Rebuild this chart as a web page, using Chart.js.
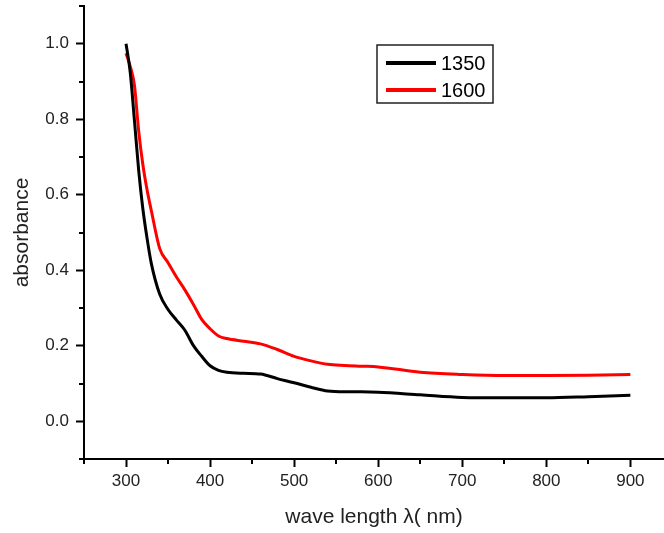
<!DOCTYPE html>
<html>
<head>
<meta charset="utf-8">
<script src="https://cdn.jsdelivr.net/npm/chart.js@4"></script>
<style>
  html, body { margin: 0; padding: 0; background: #fff; }
  #wrap { width: 664px; height: 533px; position: relative; }
</style>
</head>
<body>
<div id="wrap"><canvas id="absChart"></canvas></div>
<script>
// wavelength grid (nm) shared by both samples
const wavelength = [300, 305, 310, 315, 320, 325, 330, 340, 350, 360, 370, 380, 390, 400, 410, 420,
  440, 460, 480, 500, 520, 540, 560, 580, 600, 650, 700, 750, 800, 850, 900];

const abs1350 = [1.0, 0.924, 0.797, 0.666, 0.563, 0.485, 0.419, 0.337, 0.296, 0.268, 0.241, 0.201, 0.172, 0.147, 0.135, 0.130,
  0.127, 0.125, 0.113, 0.102, 0.090, 0.080, 0.078, 0.078, 0.077, 0.070, 0.063, 0.062, 0.062, 0.065, 0.069];

const abs1600 = [0.975, 0.94, 0.89, 0.77, 0.68, 0.613, 0.559, 0.458, 0.42, 0.382, 0.348, 0.31, 0.27, 0.245, 0.226, 0.219,
  0.212, 0.205, 0.19, 0.172, 0.16, 0.151, 0.148, 0.146, 0.144, 0.13, 0.124, 0.121, 0.121, 0.122, 0.124];

const seriesLabels = ['1350', '1600'];
const seriesColors = ['#000000', '#ff0000'];

// axis ticks
const xMajor = [300, 400, 500, 600, 700, 800, 900];
const xMinor = [250, 350, 450, 550, 650, 750, 850];
const yMajor = [0.0, 0.2, 0.4, 0.6, 0.8, 1.0];
const yMinor = [-0.1, 0.1, 0.3, 0.5, 0.7, 0.9, 1.1];

// minor ticks + framed legend
const extrasPlugin = {
  id: 'extras',
  afterDraw(chart) {
    const ctx = chart.ctx;
    const area = chart.chartArea;
    const xs = chart.scales.x;
    const ys = chart.scales.y;

    ctx.save();
    ctx.strokeStyle = '#000';
    ctx.lineWidth = 2;
    xMinor.forEach(v => {
      const px = Math.round(xs.getPixelForValue(v));
      ctx.beginPath();
      ctx.moveTo(px, area.bottom);
      ctx.lineTo(px, area.bottom + 5);
      ctx.stroke();
    });
    yMinor.forEach(v => {
      const py = Math.round(ys.getPixelForValue(v));
      ctx.beginPath();
      ctx.moveTo(area.left - 5, py);
      ctx.lineTo(area.left, py);
      ctx.stroke();
    });

    // legend box
    const bx = area.left + 293, by = 45, bw = 116, bh = 58;
    ctx.lineWidth = 1.5;
    ctx.strokeStyle = '#222';
    ctx.strokeRect(bx, by, bw, bh);
    ctx.font = '20px "Liberation Sans", Arial, sans-serif';
    ctx.textBaseline = 'middle';
    chart.data.datasets.forEach((ds, i) => {
      const ly = by + 18 + i * 27;
      ctx.strokeStyle = ds.borderColor;
      ctx.lineWidth = 4;
      ctx.beginPath();
      ctx.moveTo(bx + 9, ly);
      ctx.lineTo(bx + 59, ly);
      ctx.stroke();
      ctx.fillStyle = '#000';
      ctx.fillText(ds.label, bx + 64, ly + 1);
    });
    ctx.restore();
  }
};

const tickFont = { family: '"Liberation Sans", Arial, sans-serif', size: 17 };
const titleFont = { family: '"Liberation Sans", Arial, sans-serif', size: 21 };

new Chart(document.getElementById('absChart'), {
  type: 'line',
  data: {
    datasets: seriesLabels.map((lab, i) => ({
      label: lab,
      data: wavelength.map((w, k) => ({ x: w, y: [abs1350, abs1600][i][k] })),
      borderColor: seriesColors[i],
      borderWidth: 3,
      pointRadius: 0,
      fill: false,
      cubicInterpolationMode: 'monotone'
    }))
  },
  options: {
    responsive: true,
    maintainAspectRatio: false,
    animation: false,
    layout: { padding: { top: 6, right: 0, left: 0, bottom: 0 } },
    plugins: {
      legend: { display: false },
      tooltip: { enabled: false }
    },
    scales: {
      x: {
        type: 'linear',
        min: 250,
        max: 940,
        afterBuildTicks: s => { s.ticks = xMajor.map(v => ({ value: v })); },
        afterFit: s => { s.height = 74; s.paddingLeft = 0; s.paddingRight = 0; },
        grid: {
          drawOnChartArea: false,
          drawTicks: true,
          tickLength: 8,
          tickWidth: 2,
          tickColor: '#000'
        },
        border: { display: true, color: '#000', width: 2 },
        ticks: {
          color: '#222',
          font: tickFont,
          padding: 4,
          maxRotation: 0,
          autoSkip: false,
          callback: v => String(v)
        },
        title: {
          display: true,
          text: 'wave length λ( nm)',
          color: '#222',
          font: titleFont,
          padding: { top: 3, bottom: 3 }
        }
      },
      y: {
        type: 'linear',
        min: -0.1,
        max: 1.1,
        afterBuildTicks: s => { s.ticks = yMajor.map(v => ({ value: v })); },
        afterFit: s => { s.width = 84; s.paddingTop = 0; s.paddingBottom = 0; },
        grid: {
          drawOnChartArea: false,
          drawTicks: true,
          tickLength: 8,
          tickWidth: 2,
          tickColor: '#000'
        },
        border: { display: true, color: '#000', width: 2 },
        ticks: {
          color: '#222',
          font: tickFont,
          padding: 7,
          autoSkip: false,
          callback: v => v.toFixed(1)
        },
        title: {
          display: true,
          text: 'absorbance',
          color: '#222',
          font: titleFont,
          padding: { top: 10, bottom: 10 }
        }
      }
    }
  },
  plugins: [extrasPlugin]
});
</script>
</body>
</html>
